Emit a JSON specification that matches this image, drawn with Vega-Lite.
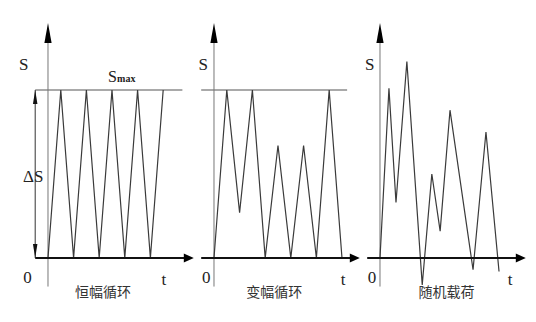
{
  "$schema": "https://vega.github.io/schema/vega-lite/v6.json",
  "padding": 0,
  "background": "white",
  "config": {"view": {"stroke": null}},
  "data": {
    "values": [
      {"kind": "load", "p": 1, "t": 0, "S": 0},
      {"kind": "load", "p": 1, "t": 1, "S": 100},
      {"kind": "load", "p": 1, "t": 2, "S": 0},
      {"kind": "load", "p": 1, "t": 3, "S": 100},
      {"kind": "load", "p": 1, "t": 4, "S": 0},
      {"kind": "load", "p": 1, "t": 5, "S": 100},
      {"kind": "load", "p": 1, "t": 6, "S": 0},
      {"kind": "load", "p": 1, "t": 7, "S": 100},
      {"kind": "load", "p": 1, "t": 8, "S": 0},
      {"kind": "load", "p": 1, "t": 9, "S": 100},

      {"kind": "load", "p": 2, "t": 0, "S": 0},
      {"kind": "load", "p": 2, "t": 1, "S": 100},
      {"kind": "load", "p": 2, "t": 2, "S": 27},
      {"kind": "load", "p": 2, "t": 3, "S": 100},
      {"kind": "load", "p": 2, "t": 4, "S": 0},
      {"kind": "load", "p": 2, "t": 5, "S": 67},
      {"kind": "load", "p": 2, "t": 6, "S": 0},
      {"kind": "load", "p": 2, "t": 7, "S": 67},
      {"kind": "load", "p": 2, "t": 8, "S": 0},
      {"kind": "load", "p": 2, "t": 9, "S": 100},
      {"kind": "load", "p": 2, "t": 10, "S": 0},

      {"kind": "load", "p": 3, "t": 0, "S": 0},
      {"kind": "load", "p": 3, "t": 0.7, "S": 101},
      {"kind": "load", "p": 3, "t": 1.25, "S": 33},
      {"kind": "load", "p": 3, "t": 2.1, "S": 117},
      {"kind": "load", "p": 3, "t": 3.3, "S": -16},
      {"kind": "load", "p": 3, "t": 4.05, "S": 50},
      {"kind": "load", "p": 3, "t": 4.7, "S": 16},
      {"kind": "load", "p": 3, "t": 5.47, "S": 88},
      {"kind": "load", "p": 3, "t": 7.27, "S": -7},
      {"kind": "load", "p": 3, "t": 8.28, "S": 75},
      {"kind": "load", "p": 3, "t": 9.3, "S": -8},

      {"kind": "xaxis", "p": 1, "t": -1.0, "t2": 11, "S": 0},
      {"kind": "xaxis", "p": 2, "t": -1.0, "t2": 11, "S": 0},
      {"kind": "xaxis", "p": 3, "t": -1.0, "t2": 11, "S": 0},
      {"kind": "right", "p": 1, "t": 11, "S": 0},
      {"kind": "right", "p": 2, "t": 11, "S": 0},
      {"kind": "right", "p": 3, "t": 11, "S": 0},

      {"kind": "yaxis", "p": 1, "t": 0, "S": -17, "S2": 130},
      {"kind": "yaxis", "p": 2, "t": 0, "S": -17, "S2": 130},
      {"kind": "yaxis", "p": 3, "t": 0, "S": -17, "S2": 130},
      {"kind": "up", "p": 1, "t": 0, "S": 133.9},
      {"kind": "up", "p": 2, "t": 0, "S": 133.9},
      {"kind": "up", "p": 3, "t": 0, "S": 133.9},

      {"kind": "smax", "p": 1, "t": -1.0, "t2": 10.5, "S": 100},
      {"kind": "smax", "p": 2, "t": -1.0, "t2": 10.4, "S": 100},

      {"kind": "dS", "p": 1, "t": -1.0, "S": 0, "S2": 100},
      {"kind": "dSup", "p": 1, "t": -1.0, "S": 95.8},
      {"kind": "dSdown", "p": 1, "t": -1.0, "S": 4.2},

      {"kind": "sym", "p": 1, "t": -1.9, "S": 115, "txt": "S"},
      {"kind": "sym", "p": 2, "t": -0.85, "S": 115, "txt": "S"},
      {"kind": "sym", "p": 3, "t": -0.8, "S": 115, "txt": "S"},
      {"kind": "sym", "p": 1, "t": -1.6, "S": -11.9, "txt": "0"},
      {"kind": "sym", "p": 2, "t": -0.6, "S": -11.9, "txt": "0"},
      {"kind": "sym", "p": 3, "t": -0.62, "S": -11.9, "txt": "0"},
      {"kind": "sym", "p": 1, "t": 9.06, "S": -13, "txt": "t"},
      {"kind": "sym", "p": 2, "t": 10.08, "S": -13, "txt": "t"},
      {"kind": "sym", "p": 3, "t": 10.16, "S": -13, "txt": "t"},
      {"kind": "sym", "p": 1, "t": -1.15, "S": 48, "txt": "ΔS"},

      {"kind": "smaxS", "p": 1, "t": 5.38, "S": 104.5, "txt": "S"},
      {"kind": "smaxSub", "p": 1, "t": 5.4, "S": 104.5, "txt": "max"},

      {"kind": "title", "p": 1, "t": 4.3, "S": -20.8, "txt": "恒幅循环"},
      {"kind": "title", "p": 2, "t": 4.7, "S": -20.8, "txt": "变幅循环"},
      {"kind": "title", "p": 3, "t": 5.2, "S": -20.8, "txt": "随机载荷"}
    ]
  },
  "facet": {"column": {"field": "p", "type": "ordinal", "header": null}},
  "spacing": 0,
  "bounds": "flush",
  "spec": {
    "width": 166,
    "height": 322,
    "encoding": {
      "x": {"field": "t", "type": "quantitative", "axis": null,
            "scale": {"domain": [-3.75, 9.22], "nice": false, "zero": false}},
      "y": {"field": "S", "type": "quantitative", "axis": null,
            "scale": {"domain": [-38.1, 153.6], "nice": false, "zero": false}}
    },
    "layer": [
      {
        "transform": [{"filter": "datum.kind === 'smax'"}],
        "mark": {"type": "rule", "color": "#8c8c8c", "strokeWidth": 1.6},
        "encoding": {"x2": {"field": "t2"}}
      },
      {
        "transform": [{"filter": "datum.kind === 'yaxis'"}],
        "mark": {"type": "rule", "color": "#777777", "strokeWidth": 1},
        "encoding": {"y2": {"field": "S2"}}
      },
      {
        "transform": [{"filter": "datum.kind === 'dS'"}],
        "mark": {"type": "rule", "color": "#333333", "strokeWidth": 1},
        "encoding": {"y2": {"field": "S2"}}
      },
      {
        "transform": [{"filter": "datum.kind === 'load'"}],
        "mark": {"type": "line", "color": "#3a3a3a", "strokeWidth": 1.2},
        "encoding": {}
      },
      {
        "transform": [{"filter": "datum.kind === 'xaxis'"}],
        "mark": {"type": "rule", "color": "#111111", "strokeWidth": 2},
        "encoding": {"x2": {"field": "t2"}}
      },
      {
        "transform": [{"filter": "datum.kind === 'right'"}],
        "mark": {"type": "point", "filled": true, "color": "#000000", "opacity": 1,
                 "shape": "M1,0L-1,-0.9L-1,0.9Z", "size": 100, "strokeWidth": 0}
      },
      {
        "transform": [{"filter": "datum.kind === 'up'"}],
        "mark": {"type": "point", "filled": true, "color": "#000000", "opacity": 1,
                 "shape": "M0,-1L0.36,1L-0.36,1Z", "size": 400, "strokeWidth": 0}
      },
      {
        "transform": [{"filter": "datum.kind === 'dSup'"}],
        "mark": {"type": "point", "filled": true, "color": "#111111", "opacity": 1,
                 "shape": "M0,-1L0.32,1L-0.32,1Z", "size": 196, "strokeWidth": 0}
      },
      {
        "transform": [{"filter": "datum.kind === 'dSdown'"}],
        "mark": {"type": "point", "filled": true, "color": "#111111", "opacity": 1,
                 "shape": "M0,1L0.32,-1L-0.32,-1Z", "size": 196, "strokeWidth": 0}
      },
      {
        "transform": [{"filter": "datum.kind === 'sym'"}],
        "mark": {"type": "text", "font": "'Liberation Serif', 'DejaVu Serif', serif", "fontSize": 17,
                 "color": "#222222", "align": "center", "baseline": "middle"},
        "encoding": {"text": {"field": "txt"}}
      },
      {
        "transform": [{"filter": "datum.kind === 'smaxS'"}],
        "mark": {"type": "text", "font": "'Liberation Serif', 'DejaVu Serif', serif", "fontSize": 16,
                 "color": "#222222", "align": "right", "baseline": "alphabetic"},
        "encoding": {"text": {"field": "txt"}}
      },
      {
        "transform": [{"filter": "datum.kind === 'smaxSub'"}],
        "mark": {"type": "text", "font": "'Liberation Serif', 'DejaVu Serif', serif", "fontSize": 10, "fontWeight": "bold",
                 "color": "#222222", "align": "left", "baseline": "alphabetic"},
        "encoding": {"text": {"field": "txt"}}
      },
      {
        "transform": [{"filter": "datum.kind === 'title'"}],
        "mark": {"type": "text", "font": "Noto Sans CJK SC", "fontSize": 14,
                 "color": "#333333", "align": "center", "baseline": "middle"},
        "encoding": {"text": {"field": "txt"}}
      }
    ]
  }
}
